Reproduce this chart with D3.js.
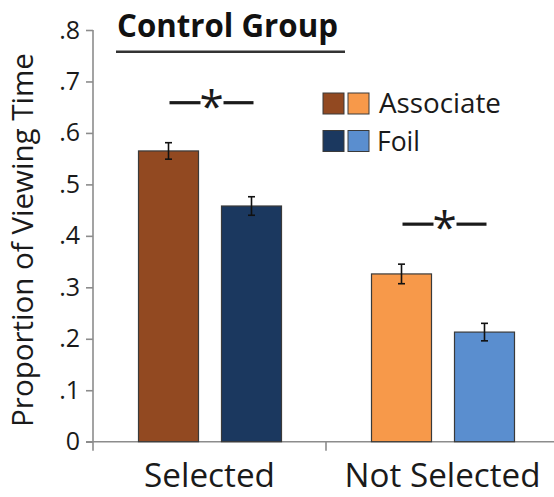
<!DOCTYPE html>
<html>
<head>
<meta charset="utf-8">
<title>Control Group</title>
<script src="https://d3js.org/d3.v7.min.js"></script>
<style>
	body { margin: 0; background: #fff; }
	svg { display: block; font-family: "Open Sans", sans-serif; }
</style>
</head>
<body>
<div id="chart"></div>
<script>

//Data
var categories = ["Selected", "Not Selected"];
var series = ["Associate", "Foil"];
var associateMeans = [0.565, 0.326];
var foilMeans = [0.458, 0.213];
var associateErr = [0.016, 0.019];
var foilErr = [0.018, 0.017];
var associateColors = ["#924921", "#f7994a"];
var foilColors = ["#1b385f", "#5a8ecf"];
var yTicks = [0, 0.1, 0.2, 0.3, 0.4, 0.5, 0.6, 0.7, 0.8];
var yTickLabels = ["0", ".1", ".2", ".3", ".4", ".5", ".6", ".7", ".8"];
var title = "Control Group";
var yTitle = "Proportion of Viewing Time";
var significant = [true, true];

var width = 554, height = 497;

var svg = d3.select("#chart")
	.append("svg")
	.attr("width", width)
	.attr("height", height);

//Scales
var x = d3.scaleBand().domain(categories).range([93, 559]);
var xs = d3.scaleBand().domain(series).range([45.5, 188.5]).paddingInner(0.277);
var y = d3.scaleLinear().domain([0, 0.8]).range([441.7, 30]);

//shrink/grow a text so it spans the wanted width
function fit(sel, w) {
	var len = sel.node().getComputedTextLength();
	var fs = parseFloat(sel.style("font-size"));
	sel.style("font-size", (fs * w / len) + "px");
}

//Rows of bars
var rows = [];
categories.forEach(function(c, i) {
	rows.push({cat: c, s: "Associate", v: associateMeans[i], e: associateErr[i], fill: associateColors[i]});
	rows.push({cat: c, s: "Foil", v: foilMeans[i], e: foilErr[i], fill: foilColors[i]});
});

//Axes
var axisColor = "#8c8c8c";
var yAxis = svg.append("g")
	.attr("transform", "translate(93,0)")
	.call(d3.axisLeft(y).tickValues(yTicks).tickSize(7).tickPadding(6)
		.tickFormat(function(d, i) { return yTickLabels[i]; }));
yAxis.select(".domain").remove();
yAxis.selectAll(".tick line").attr("stroke", axisColor).attr("stroke-width", 1.6);
yAxis.selectAll(".tick text")
	.attr("fill", "#1a1a1a")
	.style("font-size", "25px")
	.style("font-family", "\"Open Sans\", sans-serif");

//vertical axis line, running a bit past zero
svg.append("line")
	.attr("x1", 93).attr("x2", 93)
	.attr("y1", y(0.8)).attr("y2", y(0) + 9)
	.attr("stroke", axisColor).attr("stroke-width", 1.6);

//horizontal axis
var xAxis = svg.append("g")
	.attr("transform", "translate(0," + y(0) + ")")
	.call(d3.axisBottom(x).tickSize(0));
xAxis.select(".domain").remove();
xAxis.selectAll(".tick text")
	.attr("y", 45.5)
	.attr("dy", null)
	.attr("fill", "#1a1a1a")
	.style("font-family", "\"Open Sans\", sans-serif")
	.style("font-size", "28px")
	.each(function(d) {
		fit(d3.select(this), d === "Selected" ? 131 : 196);
	});

svg.append("line")
	.attr("x1", 86).attr("x2", 559)
	.attr("y1", y(0)).attr("y2", y(0))
	.attr("stroke", axisColor).attr("stroke-width", 1.6);

//group separators
svg.selectAll(".sep")
	.data(categories.slice(1))
	.enter().append("line")
	.attr("class", "sep")
	.attr("x1", function(d) { return x(d); })
	.attr("x2", function(d) { return x(d); })
	.attr("y1", y(0)).attr("y2", y(0) + 9)
	.attr("stroke", axisColor).attr("stroke-width", 1.6);

//Bars
svg.selectAll(".bar")
	.data(rows)
	.enter().append("rect")
	.attr("class", "bar")
	.attr("x", function(d) { return x(d.cat) + xs(d.s); })
	.attr("y", function(d) { return y(d.v); })
	.attr("width", xs.bandwidth())
	.attr("height", function(d) { return y(0) - y(d.v); })
	.attr("fill", function(d) { return d.fill; })
	.attr("stroke", "#3a3a3a")
	.attr("stroke-width", 1.2);

//Error bars
var err = svg.selectAll(".err")
	.data(rows)
	.enter().append("g")
	.attr("class", "err")
	.attr("transform", function(d) { return "translate(" + (x(d.cat) + xs(d.s) + xs.bandwidth() / 2) + ",0)"; })
	.attr("stroke", "#111")
	.attr("stroke-width", 1.6);
err.append("line")
	.attr("y1", function(d) { return y(d.v + d.e); })
	.attr("y2", function(d) { return y(d.v - d.e); });
err.append("line")
	.attr("x1", -3.5).attr("x2", 3.5)
	.attr("y1", function(d) { return y(d.v + d.e); })
	.attr("y2", function(d) { return y(d.v + d.e); });
err.append("line")
	.attr("x1", -3.5).attr("x2", 3.5)
	.attr("y1", function(d) { return y(d.v - d.e); })
	.attr("y2", function(d) { return y(d.v - d.e); });

//Significance markers
var sig = svg.selectAll(".sig")
	.data(categories.filter(function(c, i) { return significant[i]; }))
	.enter().append("g")
	.attr("class", "sig")
	.attr("transform", function(c) {
		var i = categories.indexOf(c);
		var top = Math.max(associateMeans[i] + associateErr[i], foilMeans[i] + foilErr[i]);
		return "translate(" + (x(c) + x.bandwidth() / 2 + 2) + "," + (y(top) - 40) + ")";
	});
sig.append("line").attr("x1", -42).attr("x2", -11).attr("stroke", "#1a1a1a").attr("stroke-width", 3.2);
sig.append("line").attr("x1", 12).attr("x2", 42).attr("stroke", "#1a1a1a").attr("stroke-width", 3.2);
sig.append("text")
	.attr("text-anchor", "middle")
	.attr("y", 19)
	.attr("fill", "#1a1a1a")
	.style("font-size", "44px")
	.text("*");

//Title
var t = svg.append("text")
	.attr("x", 117).attr("y", 37)
	.attr("fill", "#111")
	.style("font-weight", "bold")
	.style("font-size", "32px")
	.text(title);
fit(t, 221);
svg.append("line")
	.attr("x1", 116).attr("x2", 345)
	.attr("y1", 51.7).attr("y2", 51.7)
	.attr("stroke", "#333").attr("stroke-width", 2.6);

//Y axis title
var yt = svg.append("text")
	.attr("transform", "translate(33,240) rotate(-90)")
	.attr("text-anchor", "middle")
	.attr("fill", "#1a1a1a")
	.style("font-size", "26px")
	.text(yTitle);
fit(yt, 374);

//Legend
var legend = svg.selectAll(".legend")
	.data(series)
	.enter().append("g")
	.attr("class", "legend")
	.attr("transform", function(d, i) { return "translate(323," + (93 + i * 37.5) + ")"; });
legend.selectAll("rect")
	.data(function(d) { return d === "Associate" ? associateColors : foilColors; })
	.enter().append("rect")
	.attr("x", function(d, i) { return i * 25; })
	.attr("width", 21).attr("height", 21)
	.attr("fill", function(d) { return d; })
	.attr("stroke", "#3a3a3a")
	.attr("stroke-width", 1);
legend.append("text")
	.attr("x", function(d) { return d === "Associate" ? 56 : 54; })
	.attr("y", 20)
	.attr("fill", "#1a1a1a")
	.style("font-size", "26px")
	.text(function(d) { return d; })
	.each(function(d) { fit(d3.select(this), d === "Associate" ? 122 : 43); });

</script>
</body>
</html>
